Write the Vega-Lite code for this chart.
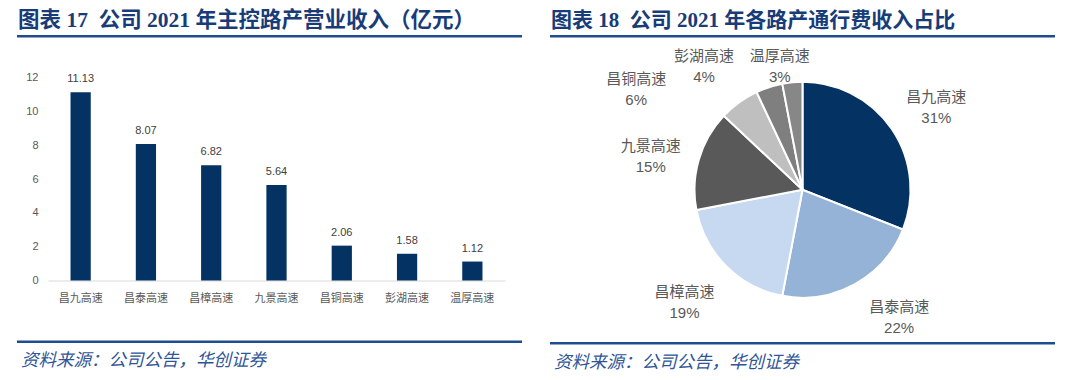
{
  "$schema": "https://vega.github.io/schema/vega-lite/v6.json",
  "padding": {"left": 17, "top": 9, "right": 0, "bottom": 0},
  "background": "white",
  "config": {"view": {"stroke": null}, "font": "Liberation Sans, Noto Sans CJK SC"},
  "datasets": {
    "revenue": [
      {"road": "昌九高速", "revenue": 11.13},
      {"road": "昌泰高速", "revenue": 8.07},
      {"road": "昌樟高速", "revenue": 6.82},
      {"road": "九景高速", "revenue": 5.64},
      {"road": "昌铜高速", "revenue": 2.06},
      {"road": "彭湖高速", "revenue": 1.58},
      {"road": "温厚高速", "revenue": 1.12}
    ],
    "share": [
      {"road": "昌九高速", "share": 0.31, "label": "昌九高速\n31%"},
      {"road": "昌泰高速", "share": 0.22, "label": "昌泰高速\n22%"},
      {"road": "昌樟高速", "share": 0.19, "label": "昌樟高速\n19%"},
      {"road": "九景高速", "share": 0.15, "label": "九景高速\n15%"},
      {"road": "昌铜高速", "share": 0.06, "label": "昌铜高速\n6%"},
      {"road": "彭湖高速", "share": 0.04, "label": "彭湖高速\n4%"},
      {"road": "温厚高速", "share": 0.03, "label": "温厚高速\n3%"}
    ]
  },
  "spacing": 28,
  "hconcat": [
    {
      "spacing": 36.5,
      "vconcat": [
        {
          "spacing": 33.5,
          "vconcat": [
            {
              "width": 505, "height": 2.5,
              "view": {"fill": "#1e4d8f", "stroke": null},
              "title": {"text": "图表 17\u00a0 公司 2021 年主控路产营业收入（亿元）", "anchor": "start", "font": "Liberation Serif, Noto Sans CJK SC", "fontSize": 21.5, "fontWeight": "bold", "color": "#183c78", "offset": 4, "dx": 1},
              "data": {"values": []},
              "mark": "text",
              "encoding": {}
            },
            {
              "spacing": 0,
              "hconcat": [
                {
                  "width": 1, "height": 1,
                  "data": {"values": []},
                  "mark": "text",
                  "encoding": {}
                },
                {
                  "width": 457, "height": 203,
                  "data": {"name": "revenue"},
                  "encoding": {
                    "x": {"field": "road", "type": "nominal", "sort": null,
                          "scale": {"paddingInner": 0.69, "paddingOuter": 0.345},
                          "axis": {"title": null, "labelAngle": 0, "ticks": false, "domainColor": "#d9d9d9", "labelColor": "#595959", "labelFontSize": 11, "labelPadding": 12}},
                    "y": {"field": "revenue", "type": "quantitative", "scale": {"domain": [0, 12], "nice": false},
                          "axis": {"title": null, "values": [0, 2, 4, 6, 8, 10, 12], "grid": false, "domain": false, "ticks": false, "labelColor": "#595959", "labelFontSize": 11, "labelPadding": 10, "minExtent": 30}}
                  },
                  "layer": [
                    {"mark": {"type": "bar", "color": "#043263"}},
                    {"mark": {"type": "text", "baseline": "bottom", "dy": -8, "fontSize": 11, "color": "#404040"},
                     "encoding": {"text": {"field": "revenue", "type": "quantitative", "format": ".2f"}}}
                  ]
                }
              ]
            }
          ]
        },
        {
          "width": 505, "height": 2.5,
          "view": {"fill": "#1e4d8f", "stroke": null},
          "title": {"text": "资料来源：公司公告，华创证券", "orient": "bottom", "anchor": "start", "font": "Noto Sans CJK SC", "fontSize": 17.5, "fontStyle": "italic", "fontWeight": "normal", "color": "#2f5597", "offset": 9, "dx": 4},
          "data": {"values": []},
          "mark": "text",
          "encoding": {}
        }
      ]
    },
    {
      "spacing": 3,
      "vconcat": [
        {
          "width": 505, "height": 2.5,
          "view": {"fill": "#1e4d8f", "stroke": null},
          "title": {"text": "图表 18\u00a0 公司 2021 年各路产通行费收入占比", "anchor": "start", "font": "Liberation Serif, Noto Sans CJK SC", "fontSize": 21, "fontWeight": "bold", "color": "#183c78", "offset": 4, "dx": 1},
          "data": {"values": []},
          "mark": "text",
          "encoding": {}
        },
        {
          "width": 505, "height": 297.5,
          "data": {"name": "share"},
          "transform": [
            {"stack": "share", "groupby": [], "sort": [{"field": "share", "order": "descending"}], "as": ["s0", "s1"]},
            {"fold": ["s0", "s1"], "as": ["edge", "angle"]},
            {"aggregate": [{"op": "mean", "field": "angle", "as": "mid"}], "groupby": ["road", "share", "label"]}
          ],
          "layer": [
            {"mark": {"type": "arc", "outerRadius": 108, "stroke": "white", "strokeWidth": 2},
             "encoding": {
               "theta": {"field": "share", "type": "quantitative", "stack": true, "scale": {"domain": [0, 1]}},
               "order": {"field": "share", "sort": "descending"},
               "color": {"field": "road", "type": "nominal", "sort": null, "legend": null,
                 "scale": {"domain": ["昌九高速", "昌泰高速", "昌樟高速", "九景高速", "昌铜高速", "彭湖高速", "温厚高速"],
                           "range": ["#043263", "#95b3d7", "#c6d9f0", "#595959", "#bfbfbf", "#7f7f7f", "#878787"]}}}},
            {"transform": [{"filter": "datum.road === '昌九高速'"}],
             "mark": {"type": "text", "lineBreak": "\n", "fontSize": 15, "lineHeight": 21, "color": "#595959", "dx": 4, "dy": -4.5},
             "encoding": {"theta": {"field": "mid", "type": "quantitative", "scale": {"domain": [0, 1]}}, "radius": {"value": 157}, "text": {"field": "label", "type": "nominal"}}},
            {"transform": [{"filter": "datum.road === '昌泰高速'"}],
             "mark": {"type": "text", "lineBreak": "\n", "fontSize": 15, "lineHeight": 21, "color": "#595959", "dx": 21, "dy": -20.5},
             "encoding": {"theta": {"field": "mid", "type": "quantitative", "scale": {"domain": [0, 1]}}, "radius": {"value": 157}, "text": {"field": "label", "type": "nominal"}}},
            {"transform": [{"filter": "datum.road === '昌樟高速'"}],
             "mark": {"type": "text", "lineBreak": "\n", "fontSize": 15, "lineHeight": 21, "color": "#595959", "dx": -7, "dy": -8.5},
             "encoding": {"theta": {"field": "mid", "type": "quantitative", "scale": {"domain": [0, 1]}}, "radius": {"value": 157}, "text": {"field": "label", "type": "nominal"}}},
            {"transform": [{"filter": "datum.road === '九景高速'"}],
             "mark": {"type": "text", "lineBreak": "\n", "fontSize": 15, "lineHeight": 21, "color": "#595959", "dx": -1, "dy": 0.5},
             "encoding": {"theta": {"field": "mid", "type": "quantitative", "scale": {"domain": [0, 1]}}, "radius": {"value": 157}, "text": {"field": "label", "type": "nominal"}}},
            {"transform": [{"filter": "datum.road === '昌铜高速'"}],
             "mark": {"type": "text", "lineBreak": "\n", "fontSize": 15, "lineHeight": 21, "color": "#595959", "dx": -74, "dy": 16.5},
             "encoding": {"theta": {"field": "mid", "type": "quantitative", "scale": {"domain": [0, 1]}}, "radius": {"value": 157}, "text": {"field": "label", "type": "nominal"}}},
            {"transform": [{"filter": "datum.road === '彭湖高速'"}],
             "mark": {"type": "text", "lineBreak": "\n", "fontSize": 15, "lineHeight": 21, "color": "#595959", "dx": -50, "dy": 15.5},
             "encoding": {"theta": {"field": "mid", "type": "quantitative", "scale": {"domain": [0, 1]}}, "radius": {"value": 157}, "text": {"field": "label", "type": "nominal"}}},
            {"transform": [{"filter": "datum.road === '温厚高速'"}],
             "mark": {"type": "text", "lineBreak": "\n", "fontSize": 15, "lineHeight": 21, "color": "#595959", "dx": -8, "dy": 22.5},
             "encoding": {"theta": {"field": "mid", "type": "quantitative", "scale": {"domain": [0, 1]}}, "radius": {"value": 157}, "text": {"field": "label", "type": "nominal"}}}
          ]
        },
        {
          "width": 505, "height": 2.5,
          "view": {"fill": "#1e4d8f", "stroke": null},
          "title": {"text": "资料来源：公司公告，华创证券", "orient": "bottom", "anchor": "start", "font": "Noto Sans CJK SC", "fontSize": 17.5, "fontStyle": "italic", "fontWeight": "normal", "color": "#2f5597", "offset": 9, "dx": 4},
          "data": {"values": []},
          "mark": "text",
          "encoding": {}
        }
      ]
    }
  ]
}
